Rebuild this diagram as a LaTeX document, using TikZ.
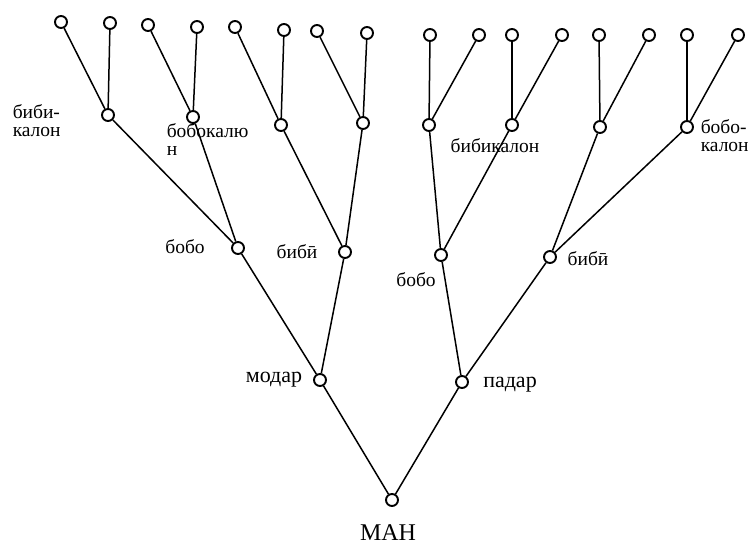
\documentclass[tikz,border=0pt]{standalone}
\usepackage{fontspec}
\setmainfont{Liberation Serif}
\tikzset{
  person/.style={circle, draw, line width=1.9pt, inner sep=0pt, minimum size=12pt, fill=white},
  lbl/.style={font=\fontsize{19.5}{18}\selectfont, inner sep=0pt, align=left},
  lblbig/.style={font=\fontsize{22}{24}\selectfont, inner sep=0pt},
}

\begin{document}
\begin{tikzpicture}[x=1pt, y=-1pt, line width=1.5pt]
		\useasboundingbox (0,0) rectangle (751,545);
		% man
		\node[person] (man) at (392,500) {};
		\node[person] (modar) at (320,380) {};
		\node[person] (padar) at (462,382) {};
		% bobo va bibi
		\node[person] (bobo1) at (238,248) {};
		\node[person] (bibi1) at (345,252) {};
		\node[person] (bobo2) at (441,255) {};
		\node[person] (bibi2) at (550,257) {};
		% bobokalon va bibikalon
		\node[person] (k1) at (108,115) {};
		\node[person] (k2) at (193,117) {};
		\node[person] (k3) at (281,125) {};
		\node[person] (k4) at (363,123) {};
		\node[person] (k5) at (429,125) {};
		\node[person] (k6) at (512,125) {};
		\node[person] (k7) at (600,127) {};
		\node[person] (k8) at (687,127) {};
		% qatori bolo
		\node[person] (a1) at (61,22) {};
		\node[person] (a2) at (110,23) {};
		\node[person] (a3) at (148,25) {};
		\node[person] (a4) at (197,27) {};
		\node[person] (a5) at (235,27) {};
		\node[person] (a6) at (284,30) {};
		\node[person] (a7) at (317,31) {};
		\node[person] (a8) at (367,33) {};
		\node[person] (a9) at (430,35) {};
		\node[person] (a10) at (479,35) {};
		\node[person] (a11) at (512,35) {};
		\node[person] (a12) at (562,35) {};
		\node[person] (a13) at (599,35) {};
		\node[person] (a14) at (649,35) {};
		\node[person] (a15) at (687,35) {};
		\node[person] (a16) at (738,35) {};

		\draw (man) -- (modar);
		\draw (man) -- (padar);
		\draw (modar) -- (bobo1);
		\draw (modar) -- (bibi1);
		\draw (padar) -- (bobo2);
		\draw (padar) -- (bibi2);

		\draw (bobo1) -- (k1);
		\draw (bobo1) -- (k2);
		\draw (bibi1) -- (k3);
		\draw (bibi1) -- (k4);
		\draw (bobo2) -- (k5);
		\draw (bobo2) -- (k6);
		\draw (bibi2) -- (k7);
		\draw (bibi2) -- (k8);

		\draw (k1) -- (a1);
		\draw (k1) -- (a2);
		\draw (k2) -- (a3);
		\draw (k2) -- (a4);
		\draw (k3) -- (a5);
		\draw (k3) -- (a6);
		\draw (k4) -- (a7);
		\draw (k4) -- (a8);
		\draw (k5) -- (a9);
		\draw (k5) -- (a10);
		\draw (k6) -- (a11);
		\draw (k6) -- (a12);
		\draw (k7) -- (a13);
		\draw (k7) -- (a14);
		\draw (k8) -- (a15);
		\draw (k8) -- (a16);

		% matnho
		\node[lblbig, font=\fontsize{24}{26}\selectfont] (t-man) at (388,533) {МАН};
		\node[lblbig] (t-modar) at (274,380) {модар};
		\node[lblbig] (t-padar) at (510,385) {падар};
		\node[lbl] (t-bobo1) at (185,247) {бобо};
		\node[lbl] (t-bibi1) at (297,252) {бибӣ};
		\node[lbl] (t-bobo2) at (416,280) {бобо};
		\node[lbl] (t-bibi2) at (588,259) {бибӣ};
		\node[lbl, anchor=west] (t-k1) at (12,121) {биби-\\калон};
		\node[lbl, anchor=west] (t-k2) at (166,140) {бобокалю\\н};
		\node[lbl] (t-k6) at (495,146) {бибикалон};
		\node[lbl, anchor=west] (t-k8) at (700,136) {бобо-\\калон};
	\end{tikzpicture}
\end{document}
